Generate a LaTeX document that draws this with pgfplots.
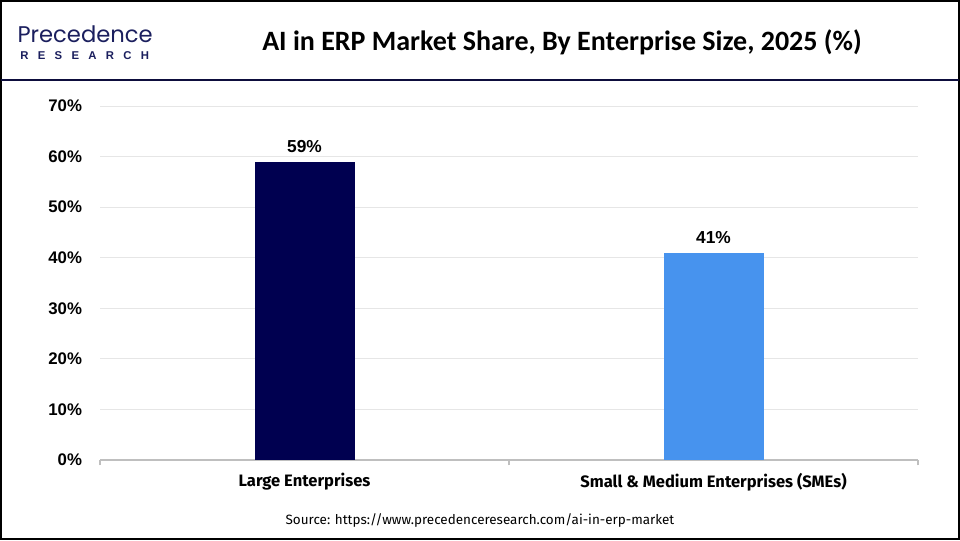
\documentclass[border=0pt]{standalone}
\usepackage{pgfplots}
\pgfplotsset{compat=1.18}
\usepackage{fontspec}
\setmainfont{Liberation Sans}
\newfontfamily\titlefont{Carlito}
\newfontfamily\catfont{Fira Sans}
\newfontfamily\logofont{Poppins}
\definecolor{navybar}{HTML}{000050}
\definecolor{bluebar}{HTML}{4793EE}
\definecolor{headline}{HTML}{0D0D3D}
\definecolor{logonavy}{HTML}{1B1F5E}
\definecolor{gridgray}{HTML}{E6E6E6}
\definecolor{axisgray}{HTML}{BFBFBF}
\begin{document}
\begin{tikzpicture}
% frame (1px = 0.75pt)
\fill[white] (0,0) rectangle (720pt,405pt);
\draw[black, line width=1.5pt] (0.75pt,0.75pt) rectangle (719.25pt,404.25pt);
\draw[headline, line width=1.5pt] (0.75pt,345pt) -- (719.25pt,345pt);
% logo
\node[anchor=base west, inner sep=0pt, text depth=0pt, text=logonavy] at (13pt,372.75pt) {\logofont\fontsize{17}{17}\selectfont Precedence};
\node[anchor=base west, inner sep=0pt, text height=6pt, text=logonavy] at (15pt,360pt) {\bfseries\fontsize{8.5}{8.5}\selectfont R\hspace{7pt}E\hspace{7pt}S\hspace{7pt}E\hspace{7pt}A\hspace{7pt}R\hspace{7pt}C\hspace{7pt}H};
% title
\node[inner sep=0pt] at (421.5pt,373.5pt) {\titlefont\bfseries\fontsize{21}{21}\selectfont AI in ERP Market Share, By Enterprise Size, 2025 (\%)};
% source
\node[inner sep=0pt] at (360pt,14.5pt) {\catfont\fontsize{10.1}{10.1}\selectfont Source: https://www.precedenceresearch.com/ai-in-erp-market};
\begin{axis}[
  at={(75pt,60pt)}, anchor=south west,
  scale only axis, width=613.5pt, height=265.5pt,
  xmin=-0.5, xmax=1.5, ymin=0, ymax=70,
  axis x line*=bottom, axis y line*=left,
  x axis line style={axisgray, line width=1.5pt},
  y axis line style={draw=none},
  xtick={0,1}, xticklabels={Large Enterprises, Small \& Medium Enterprises (SMEs)},
  minor xtick={-0.5,0.5,1.5},
  major x tick style={draw=none},
  minor x tick style={axisgray, line width=1pt},
  minor tick length=4pt,
  ytick={0,10,20,30,40,50,60,70},
  yticklabels={0\%,10\%,20\%,30\%,40\%,50\%,60\%,70\%},
  ymajorgrids, grid style={gridgray, line width=0.6pt},
  ytick style={draw=none},
  xticklabel style={font=\catfont\bfseries\fontsize{12.4}{12.4}\selectfont, yshift=-2pt},
  yticklabel style={font=\bfseries\fontsize{12.6}{12.6}\selectfont, xshift=-10pt},
  /pgf/number format/assume math mode=true,
  ybar, bar width=75pt,
  nodes near coords={\pgfmathprintnumber{\pgfplotspointmeta}\%},
  nodes near coords style={font=\bfseries\fontsize{13}{13}\selectfont, yshift=3pt},
  clip=false,
]
\addplot[bar shift=0pt, fill=navybar, draw=none] coordinates {(0,59)};
\addplot[bar shift=0pt, fill=bluebar, draw=none] coordinates {(1,41)};
\end{axis}
\end{tikzpicture}
\end{document}
